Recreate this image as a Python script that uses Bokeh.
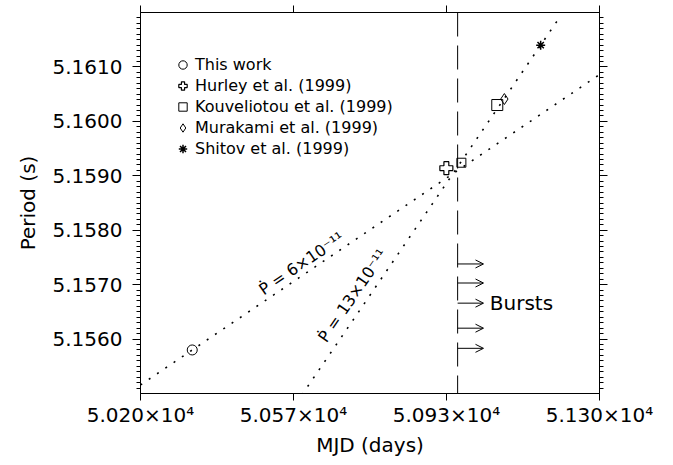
import numpy as np
from bokeh.plotting import figure
from bokeh.models import (Range1d, LinearAxis, FixedTicker, CustomJSTickFormatter, Span,
                          Arrow, OpenHead, ColumnDataSource, Legend, LegendItem)
from bokeh.core.properties import value
from bokeh.embed import file_html
from bokeh.resources import INLINE

# ---------------- data ----------------
this_mjd = [50324]
this_period = [5.15580]
hurley_mjd = [50933]
hurley_period = [5.15914]
kouv_mjd = [50969, 51055]
kouv_period = [5.15924, 5.16030]
mura_mjd = [51072]
mura_period = [5.16041]
shitov_mjd = [51159]
shitov_period = [5.16140]

legend_labels = ["This work", "Hurley et al. (1999)", "Kouveliotou et al. (1999)",
                 "Murakami et al. (1999)", "Shitov et al. (1999)"]

pdot_values = [6e-11, 13e-11]          # s/s
pdot_labels = ["Ṗ = 6×10⁻¹¹", "Ṗ = 13×10⁻¹¹"]

burst_mjd = 50960
burst_periods = [5.15738, 5.15703, 5.15666, 5.15620, 5.15583]
burst_label = "Bursts"

x_ticks = [50200, 50566.667, 50933.333, 51300]
x_tick_labels = ["5.020×10⁴", "5.057×10⁴", "5.093×10⁴", "5.130×10⁴"]
y_ticks = [5.156, 5.157, 5.158, 5.159, 5.160, 5.161]
y_tick_labels = ["5.1560", "5.1570", "5.1580", "5.1590", "5.1600", "5.1610"]

# ---------------- figure ----------------
FONT = "DejaVu Sans"
p = figure(width=673, height=465, output_backend="svg", toolbar_location=None,
           x_range=Range1d(50200, 51300), y_range=Range1d(5.155, 5.162),
           x_axis_type=None, y_axis_type=None,
           min_border_left=140, min_border_right=74, min_border_top=12, min_border_bottom=72)
p.outline_line_color = "black"
p.outline_line_width = 1
p.background_fill_color = "white"
p.border_fill_color = "white"

lookup = ("let b=0; for (let i=0;i<vals.length;i++){"
          "if (Math.abs(vals[i]-tick) < Math.abs(vals[b]-tick)) b=i;} return labels[b];")
blank = CustomJSTickFormatter(code="return '';")

minor_y = [5.155 + 0.0001 * i for i in range(1, 70) if i % 10 != 0]
yticker = FixedTicker(ticks=y_ticks, minor_ticks=minor_y)
xticker = FixedTicker(ticks=x_ticks, minor_ticks=[])


def style_axis(ax):
    ax.axis_line_color = "black"
    ax.major_tick_line_color = "black"
    ax.minor_tick_line_color = "black"
    ax.major_tick_in = 0
    ax.minor_tick_in = 0
    ax.major_label_text_font = FONT
    ax.major_label_text_color = "black"
    ax.axis_label_text_font = FONT
    ax.axis_label_text_font_style = "normal"
    ax.axis_label_text_color = "black"


left = LinearAxis(ticker=yticker,
                  formatter=CustomJSTickFormatter(args=dict(vals=y_ticks, labels=y_tick_labels), code=lookup),
                  axis_label="Period (s)")
style_axis(left)
left.major_tick_out = 8
left.minor_tick_out = 4
left.major_label_text_font_size = "20px"
left.major_label_standoff = 10
left.axis_label_text_font_size = "20px"
left.axis_label_standoff = 10
p.add_layout(left, "left")

right = LinearAxis(ticker=yticker, formatter=blank)
style_axis(right)
right.major_tick_out = 8
right.minor_tick_out = 4
right.major_label_standoff = 0
p.add_layout(right, "right")

bottom = LinearAxis(ticker=xticker,
                    formatter=CustomJSTickFormatter(args=dict(vals=x_ticks, labels=x_tick_labels), code=lookup),
                    axis_label="MJD (days)")
style_axis(bottom)
bottom.major_tick_out = 7
bottom.minor_tick_out = 0
bottom.major_label_text_font_size = "20px"
bottom.major_label_standoff = 2
bottom.axis_label_text_font_size = "20px"
bottom.axis_label_standoff = 3
p.add_layout(bottom, "below")

top = LinearAxis(ticker=xticker, formatter=blank)
style_axis(top)
top.major_tick_out = 7
top.minor_tick_out = 0
top.major_label_standoff = 0
p.add_layout(top, "above")

# ---------------- spin-down lines ----------------
day = 86400.0
l1_x = np.array([50200.0, 51300.0])
l1_y = this_period[0] + pdot_values[0] * day * (l1_x - this_mjd[0])
l2_x = np.array([50560.0, 51204.0])
l2_y = shitov_period[0] + pdot_values[1] * day * (l2_x - shitov_mjd[0])
p.line(l1_x, l1_y, line_color="black", line_width=1.6, line_dash="2 8")
p.line(l2_x, l2_y, line_color="black", line_width=1.6, line_dash="2 8")

# labels along the lines
lab1_x = 50488.0
lab1_y = this_period[0] + pdot_values[0] * day * (lab1_x - this_mjd[0]) + 0.00023
lab2_x = 50635.0
lab2_y = shitov_period[0] + pdot_values[1] * day * (lab2_x - shitov_mjd[0]) + 0.00046
p.text(x=[lab1_x], y=[lab1_y], text=[pdot_labels[0]], angle=np.deg2rad(34.1),
       text_font=value(FONT), text_font_size="16px", text_align="left",
       text_baseline="alphabetic", text_color="black")
p.text(x=[lab2_x], y=[lab2_y], text=[pdot_labels[1]], angle=np.deg2rad(55.7),
       text_font=value(FONT), text_font_size="16px", text_align="left",
       text_baseline="alphabetic", text_color="black")

# ---------------- burst epoch ----------------
p.add_layout(Span(location=burst_mjd, dimension="height", line_color="black",
                  line_width=1, line_dash="24 9"))
arrow_src = ColumnDataSource(dict(x0=[burst_mjd] * len(burst_periods),
                                  x1=[burst_mjd + 62] * len(burst_periods),
                                  y=burst_periods))
p.add_layout(Arrow(end=OpenHead(size=8, line_width=1, line_color="black"),
                   x_start="x0", y_start="y", x_end="x1", y_end="y",
                   source=arrow_src, line_color="black", line_width=1))
p.text(x=[burst_mjd + 77], y=[burst_periods[2]], text=[burst_label],
       text_font=value(FONT), text_font_size="20px", text_align="left",
       text_baseline="middle", text_color="black")

# ---------------- points ----------------
r_this = p.scatter(this_mjd, this_period, marker="circle", size=10,
                   fill_alpha=0, line_color="black", line_width=1)
r_h = p.scatter(hurley_mjd, hurley_period, marker="plus", size=13,
                fill_alpha=0, line_color="black", line_width=1.2)
r_k = p.scatter(kouv_mjd, kouv_period, marker="square", size=[9, 11],
                fill_alpha=0, line_color="black", line_width=1)
r_m = p.scatter(mura_mjd, mura_period, marker="diamond", size=11,
                fill_alpha=0, line_color="black", line_width=1)
r_s = p.scatter(shitov_mjd, shitov_period, marker="asterisk", size=9,
                line_color="black", line_width=1.5)

legend = Legend(items=[LegendItem(label=lab, renderers=[r])
                       for lab, r in zip(legend_labels, [r_this, r_h, r_k, r_m, r_s])],
                location=(30, 234), glyph_width=25, glyph_height=21, label_height=21,
                spacing=0, padding=0, margin=0, label_standoff=0,
                border_line_color=None, background_fill_alpha=0,
                label_text_font=FONT, label_text_font_size="16px", label_text_color="black")
p.add_layout(legend)

open("out.html", "w").write(file_html(p, INLINE))
